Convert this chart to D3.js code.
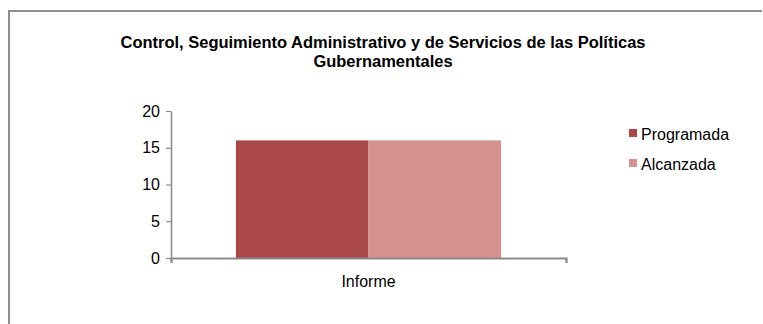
<!DOCTYPE html>
<html>
<head>
<meta charset="utf-8">
<script src="https://cdn.jsdelivr.net/npm/d3@7"></script>
<style>
  html, body { margin: 0; padding: 0; background: #ffffff; }
  svg { display: block; font-family: "Liberation Sans", Arial, sans-serif; }
</style>
</head>
<body>
<svg id="chart" width="763" height="324"></svg>
<script>
// Chart data
const titleLines = ["Control, Seguimiento Administrativo y de Servicios de las Políticas", "Gubernamentales"];
const categories = ["Informe"];
const seriesNames = ["Programada", "Alcanzada"];
const programada = [16];
const alcanzada = [16];
const yTicks = [0, 5, 10, 15, 20];
const seriesColors = ["#A94846", "#D39190"];

const svg = d3.select("#chart");

// Outer chart frame
svg.append("path")
  .attr("d", "M9,326 L9,11 L762,11")
  .attr("fill", "none")
  .attr("stroke", "#8e8e8e")
  .attr("stroke-width", 2);

// Title: condensed bold lines, both squeezed by the same factor
const titleNodes = titleLines.map((t, i) => svg.append("text")
  .attr("x", 383)
  .attr("y", 48 + i * 19)
  .attr("text-anchor", "middle")
  .attr("font-size", 16)
  .attr("font-weight", "bold")
  .attr("fill", "#000")
  .text(t));
const squeeze = 525 / titleNodes[0].node().getComputedTextLength();
titleNodes.forEach(n => {
  n.attr("textLength", n.node().getComputedTextLength() * squeeze)
   .attr("lengthAdjust", "spacingAndGlyphs");
});

// Plot area
const plot = { left: 171, right: 566, top: 111, bottom: 258 };

const y = d3.scaleLinear().domain([0, 20]).range([plot.bottom, plot.top]);
const x0 = d3.scaleBand().domain(categories).range([plot.left, plot.right]).paddingInner(0).paddingOuter(0);
// Grouped bars with a gap on each side of the pair
const x1 = d3.scaleBand().domain(seriesNames).range([0, x0.bandwidth()]).paddingOuter(0.49).paddingInner(0);

const rows = categories.map((c, i) => ({ cat: c, values: [programada[i], alcanzada[i]] }));

const groups = svg.append("g").selectAll("g")
  .data(rows).join("g")
  .attr("transform", d => `translate(${x0(d.cat)},0)`);

groups.selectAll("rect")
  .data(d => d.values.map((v, j) => ({ name: seriesNames[j], value: v, color: seriesColors[j] })))
  .join("rect")
  .attr("x", d => x1(d.name))
  .attr("width", x1.bandwidth())
  .attr("y", d => y(d.value))
  .attr("height", d => y(0) - y(d.value))
  .attr("fill", d => d.color);

// Y axis
const yAxis = svg.append("g")
  .attr("transform", `translate(${plot.left},0)`)
  .call(d3.axisLeft(y).tickValues(yTicks).tickSize(5).tickPadding(6).tickSizeOuter(0));
yAxis.select(".domain").attr("stroke", "#8a8a8a").attr("stroke-width", 1.5);
yAxis.selectAll(".tick line").attr("stroke", "#8a8a8a").attr("stroke-width", 1.2);
yAxis.selectAll(".tick text").attr("font-size", 16).attr("fill", "#000")
  .attr("font-family", "Liberation Sans, Arial, sans-serif");

// X axis
const xAxisScale = d3.scaleLinear().domain([0, 1]).range([plot.left, plot.right]);
const xAxis = svg.append("g")
  .attr("transform", `translate(0,${plot.bottom})`)
  .call(d3.axisBottom(xAxisScale).tickValues([0, 1]).tickSize(5).tickFormat(""));
xAxis.select(".domain").attr("stroke", "#8a8a8a").attr("stroke-width", 2.2);
xAxis.selectAll(".tick line").attr("stroke", "#8a8a8a").attr("stroke-width", 1.2);

svg.append("g").selectAll("text")
  .data(categories).join("text")
  .attr("x", d => x0(d) + x0.bandwidth() / 2)
  .attr("y", 287)
  .attr("text-anchor", "middle")
  .attr("font-size", 16)
  .attr("fill", "#000")
  .text(d => d);

// Legend
const legend = svg.append("g").selectAll("g")
  .data(seriesNames).join("g")
  .attr("transform", (d, i) => `translate(629,${140 + i * 30})`);
legend.append("rect")
  .attr("x", 0).attr("y", -11).attr("width", 8).attr("height", 8)
  .attr("fill", (d, i) => seriesColors[i]);
legend.append("text")
  .attr("x", 12).attr("y", 0)
  .attr("font-size", 16)
  .attr("fill", "#000")
  .text(d => d);
</script>
</body>
</html>
